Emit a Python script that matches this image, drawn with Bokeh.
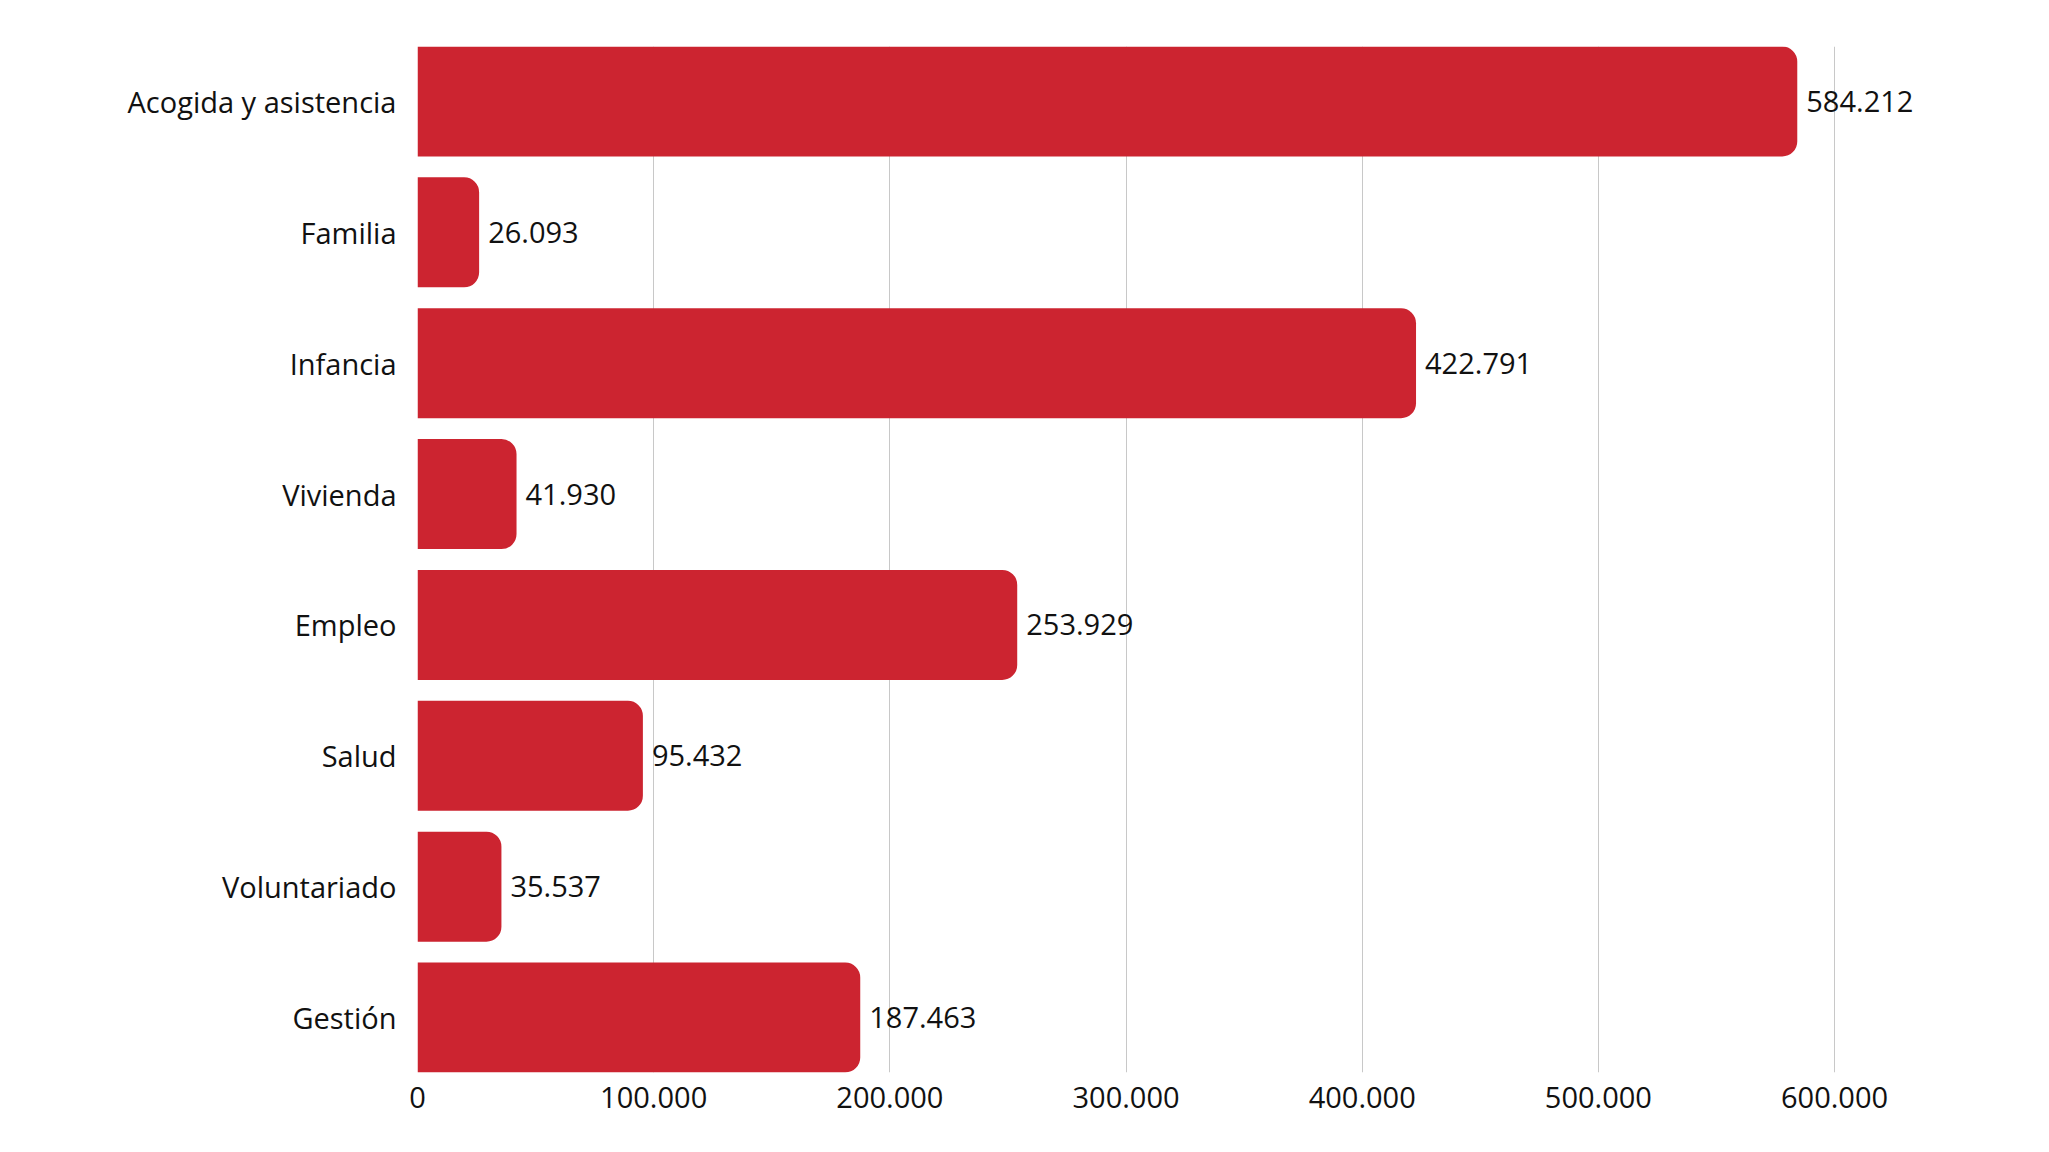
from bokeh.plotting import figure
from bokeh.models import Range1d, FixedTicker, ColumnDataSource
from bokeh.core.properties import value
from bokeh.embed import file_html
from bokeh.resources import INLINE

categories = ["Acogida y asistencia", "Familia", "Infancia", "Vivienda",
              "Empleo", "Salud", "Voluntariado", "Gestión"]
amounts = [584212, 26093, 422791, 41930, 253929, 95432, 35537, 187463]
x_ticks = [0, 100000, 200000, 300000, 400000, 500000, 600000]

def fmt(v):
    return f"{v:,}".replace(",", ".")

FONT = "Open Sans"
FS = "29px"
BAR = "#cc2430"

pos = list(range(len(categories)))
src = ColumnDataSource(dict(y=pos, v=amounts, lab=[fmt(v) for v in amounts]))

p = figure(width=2030, height=1132, output_backend="svg", toolbar_location=None,
           x_range=Range1d(0, 680000), y_range=Range1d(len(categories) - 0.58, -0.42),
           min_border_left=417, min_border_top=46, min_border_bottom=60, min_border_right=7)
p.frame_width = 1606
p.frame_height = 1026
p.outline_line_color = None
p.background_fill_color = "white"
p.border_fill_color = "white"

p.hbar(y="y", right="v", left=0, height=0.84, source=src, fill_color=BAR,
       line_color=None, border_radius=(0, 15, 15, 0))
p.text(x="v", y="y", text="lab", source=src, x_offset=9, text_align="left",
       text_baseline="middle", text_font=value(FONT), text_font_size=FS,
       text_color="#111111")

p.xaxis.ticker = FixedTicker(ticks=x_ticks)
p.xaxis.major_label_overrides = {t: fmt(t) for t in x_ticks}
p.yaxis.ticker = FixedTicker(ticks=pos)
p.yaxis.major_label_overrides = {i: c for i, c in zip(pos, categories)}

for ax in (p.xaxis[0], p.yaxis[0]):
    ax.axis_line_color = None
    ax.major_tick_line_color = None
    ax.minor_tick_line_color = None
    ax.major_label_text_font = FONT
    ax.major_label_text_font_size = FS
    ax.major_label_text_color = "#111111"
p.xaxis.major_label_standoff = 8
p.yaxis.major_label_standoff = 15

p.xgrid.grid_line_color = "#c8c8c8"
p.xgrid.grid_line_width = 1
p.ygrid.grid_line_color = None

open("out.html", "w").write(file_html(p, INLINE))
